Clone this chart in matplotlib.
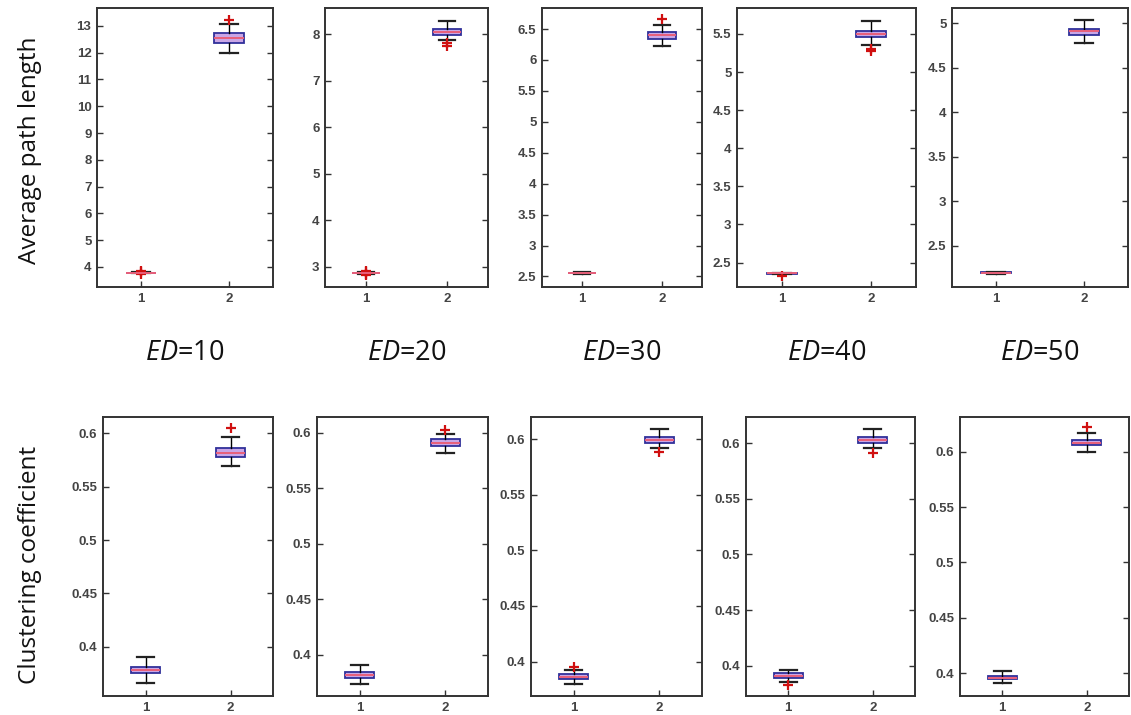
import matplotlib
matplotlib.use("Agg")
import matplotlib.pyplot as plt

W, H = 1131, 715

plt.rcParams["mathtext.fontset"] = "custom"
plt.rcParams["mathtext.it"] = "Open Sans:italic"
plt.rcParams["mathtext.rm"] = "Open Sans"

ed_labels = ["10", "20", "30", "40", "50"]

# Average path length: [box1, box2] per ED -> (whislo, q1, med, q3, whishi)
apl_stats = [
    [(3.76, 3.775, 3.78, 3.785, 3.80), (12.00, 12.38, 12.54, 12.73, 13.07)],
    [(2.85, 2.865, 2.87, 2.875, 2.89), (7.88, 7.97, 8.05, 8.11, 8.28)],
    [(2.545, 2.552, 2.555, 2.558, 2.565), (6.22, 6.34, 6.41, 6.46, 6.56)],
    [(2.35, 2.357, 2.36, 2.363, 2.37), (5.35, 5.46, 5.50, 5.54, 5.67)],
    [(2.19, 2.195, 2.20, 2.205, 2.21), (4.78, 4.87, 4.91, 4.94, 5.04)],
]
apl_fliers = [
    [[3.74, 3.82, 3.85], [13.22]],
    [[2.82, 2.84, 2.90, 2.92], [7.81, 7.74]],
    [[], [6.67]],
    [[2.33], [5.30, 5.28]],
    [[], []],
]
apl_ylim = [(3.25, 13.67), (2.57, 8.56), (2.33, 6.84), (2.18, 5.84), (2.04, 5.17)]
apl_ticks = [
    [4, 5, 6, 7, 8, 9, 10, 11, 12, 13],
    [3, 4, 5, 6, 7, 8],
    [2.5, 3, 3.5, 4, 4.5, 5, 5.5, 6, 6.5],
    [2.5, 3, 3.5, 4, 4.5, 5, 5.5],
    [2.5, 3, 3.5, 4, 4.5, 5],
]

# Clustering coefficient
cc_stats = [
    [(0.3657, 0.3750, 0.3780, 0.3813, 0.3900), (0.5694, 0.5775, 0.5818, 0.5865, 0.5963)],
    [(0.3739, 0.3796, 0.3820, 0.3844, 0.3910), (0.5817, 0.5880, 0.5910, 0.5940, 0.5990)],
    [(0.3800, 0.3840, 0.3865, 0.3890, 0.3920), (0.5925, 0.5964, 0.5995, 0.6023, 0.6090)],
    [(0.3856, 0.3890, 0.3910, 0.3932, 0.3960), (0.5960, 0.6000, 0.6030, 0.6059, 0.6128)],
    [(0.3910, 0.3946, 0.3960, 0.3976, 0.4020), (0.6000, 0.6060, 0.6080, 0.6105, 0.6166)],
]
cc_fliers = [
    [[], [0.6047]],
    [[], [0.6024]],
    [[0.3955], [0.5889]],
    [[0.3826], [0.5915]],
    [[], [0.6226]],
]
cc_ylim = [(0.3538, 0.6153), (0.3631, 0.6141), (0.369, 0.620), (0.3727, 0.6237), (0.3795, 0.6313)]
cc_ticks = [0.4, 0.45, 0.5, 0.55, 0.6]

# axes boxes in pixels: (left, right)
top_x = [(97, 273), (325, 488), (542, 702), (737, 916), (952, 1128)]
bot_x = [(103, 273), (317, 488), (531, 702), (746, 915), (960, 1129)]
top_y = (8, 287)
bot_y = (417, 696)

fig = plt.figure(figsize=(W / 100, H / 100), dpi=100)
fig.patch.set_facecolor("white")


def add_px_axes(x0, x1, y0, y1):
    return fig.add_axes([x0 / W, 1 - y1 / H, (x1 - x0) / W, (y1 - y0) / H])


def draw_panel(ax, stats, fliers, ylim, ticks):
    items = []
    for i, (st, fl) in enumerate(zip(stats, fliers)):
        lo, q1, med, q3, hi = st
        items.append(dict(whislo=lo, q1=q1, med=med, q3=q3, whishi=hi,
                          fliers=fl, label=str(i + 1)))
    ax.bxp(items, positions=[1, 2], widths=0.34, capwidths=0.2,
           patch_artist=True,
           boxprops=dict(facecolor="#c9a6e6", edgecolor="#30309a", linewidth=1.3),
           medianprops=dict(color="#e8607a", linewidth=1.4),
           whiskerprops=dict(color="black", linewidth=1.0),
           capprops=dict(color="#222222", linewidth=1.6),
           flierprops=dict(marker="+", markeredgecolor="#d01010",
                           markersize=7, markeredgewidth=1.6, linestyle="none"))
    ax.set_xlim(0.5, 2.5)
    ax.set_ylim(*ylim)
    ax.set_yticks(ticks)
    ax.set_yticklabels([f"{t:g}" for t in ticks])
    ax.set_xticks([1, 2])
    ax.set_xticklabels(["1", "2"])
    ax.tick_params(direction="in", right=True, top=False, length=4,
                   width=1.0, color="#333333", labelsize=9.5,
                   labelcolor="#444444", pad=4)
    for lab in ax.get_xticklabels() + ax.get_yticklabels():
        lab.set_family("Liberation Sans")
        lab.set_fontweight("bold")
    for s in ax.spines.values():
        s.set_color("#333333")
        s.set_linewidth(1.4)


for k in range(5):
    ax = add_px_axes(top_x[k][0], top_x[k][1], *top_y)
    draw_panel(ax, apl_stats[k], apl_fliers[k], apl_ylim[k], apl_ticks[k])
    ax = add_px_axes(bot_x[k][0], bot_x[k][1], *bot_y)
    draw_panel(ax, cc_stats[k], cc_fliers[k], cc_ylim[k], cc_ticks)

    cx = (top_x[k][0] + top_x[k][1]) / 2 / W
    fig.text(cx, 1 - 353 / H, r"$\mathit{ED}$=" + ed_labels[k],
             ha="center", va="center", fontsize=19.5, family="Open Sans",
             color="#111111")

fig.text(30 / W, 1 - 150 / H, "Average path length", rotation=90,
         ha="center", va="center", fontsize=17.5, family="Open Sans", color="#111111")
fig.text(30 / W, 1 - 565 / H, "Clustering coefficient", rotation=90,
         ha="center", va="center", fontsize=17.5, family="Open Sans", color="#111111")

fig.savefig("out.png", dpi=100)
